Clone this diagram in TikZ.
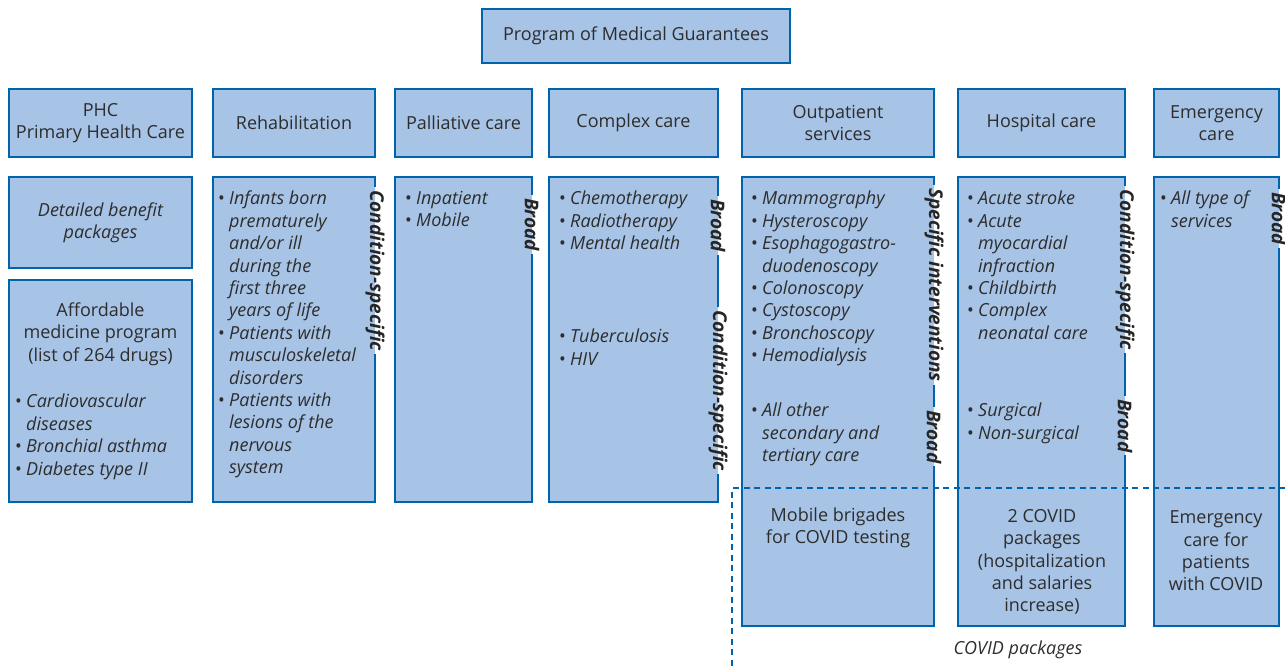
\documentclass[tikz,border=0pt]{standalone}
\usepackage{fontspec}
\setmainfont{Open Sans}
\usepackage{xcolor}
\usepackage{tikz}
\usetikzlibrary{positioning}

\definecolor{boxfill}{RGB}{167,195,229}
\definecolor{boxline}{RGB}{0,99,174}
\definecolor{txt}{RGB}{45,45,45}

\newcommand{\bul}{\makebox[11pt][l]{\upshape\textbullet}}
\newcommand{\ind}{\hspace*{11pt}}

\tikzset{
	box/.style={
		rectangle,
		fill=boxfill,
		draw=boxline,
		line width=2.6pt,
		inner sep=0pt,
		outer sep=0pt,
		anchor=north west,
		text=txt,
		align=center,
		font=\fontsize{18}{22.4}\selectfont
	},
	openbox/.style={box, draw=none},
	border/.style={draw=boxline, line width=2.6pt},
	items/.style={
		text=txt,
		align=left,
		anchor=north west,
		inner sep=0pt,
		font=\fontsize{18}{22.4}\selectfont\itshape
	},
	plain/.style={
		text=txt,
		align=center,
		inner sep=0pt,
		font=\fontsize{18}{22.4}\selectfont
	},
	side/.style={
		rotate=-90,
		anchor=west,
		inner sep=3pt,
		text=black!85,
		font=\fontsize{19}{20}\selectfont\bfseries\itshape
	},
	covid/.style={draw=boxline, line width=2.7pt, dash pattern=on 6pt off 4.5pt}
}

\begin{document}
\begin{tikzpicture}[x=1pt, y=-1pt]
	\useasboundingbox (0,0) rectangle (1285,668);

	% Program
	\node[box, minimum width=308pt, minimum height=54pt] (pmg) at (482,9)
		{Program of Medical Guarantees};

	% Header row
	\node[box, minimum width=183pt, minimum height=68pt] (phc) at (9,89)
		{PHC\\Primary Health Care};
	\node[box, minimum width=162pt, minimum height=68pt] (rehab) at (213,89)
		{Rehabilitation};
	\node[box, minimum width=137pt, minimum height=68pt] (pall) at (395,89)
		{Palliative care};
	\node[box, minimum width=169pt, minimum height=68pt] (comp) at (549,89)
		{Complex care};
	\node[box, minimum width=192pt, minimum height=68pt] (outp) at (742,89)
		{Outpatient\\services};
	\node[box, minimum width=167pt, minimum height=68pt] (hosp) at (958,89)
		{Hospital care};
	\node[box, minimum width=125pt, minimum height=68pt] (emer) at (1154,89)
		{Emergency\\care};

	% PHC packages
	\node[box, minimum width=183pt, minimum height=91pt, font=\fontsize{18}{22.4}\selectfont\itshape]
		(phcdet) at (9,177) {Detailed benefit\\packages};
	\node[box, minimum width=183pt, minimum height=222pt] (phcmed) at (9,280) {};
	\node[plain] (phcmedhd) at (100.5,334) {Affordable\\medicine program\\(list of 264 drugs)};
	\node[items] (phcmedtxt) at ([xshift=6pt, yshift=-114pt]phcmed.north west)
		{\bul Cardiovascular\\ \ind diseases\\ \bul Bronchial asthma\\ \bul Diabetes type II};

	% Rehabilitation
	\node[openbox, minimum width=162pt, minimum height=325pt] (rehabl) at (213,177) {};
	\node[items] (rehabtxt) at ([xshift=5pt, yshift=-14pt]rehabl.north west)
		{\bul Infants born\\ \ind prematurely\\ \ind and/or ill\\ \ind during the\\
		\ind first three\\ \ind years of life\\ \bul Patients with\\ \ind musculoskeletal\\
		\ind disorders\\ \bul Patients with\\ \ind lesions of the\\ \ind nervous\\ \ind system};
	\node[side] (rehabs1) at ([yshift=-10pt]rehabl.north east) {Condition-specific};
	\draw[border] (rehabs1.west -| rehabl.east) -- (rehabl.north east) -- (rehabl.north west)
		-- (rehabl.south west) -- (rehabl.south east) -- (rehabs1.east -| rehabl.east);

	% Palliative care
	\node[openbox, minimum width=137pt, minimum height=325pt] (palll) at (395,177) {};
	\node[items] (palltxt) at ([xshift=10pt, yshift=-14pt]palll.north west)
		{\bul Inpatient\\ \bul Mobile};
	\node[side] (palls1) at ([yshift=-18pt]palll.north east) {Broad};
	\draw[border] (palls1.west -| palll.east) -- (palll.north east) -- (palll.north west)
		-- (palll.south west) -- (palll.south east) -- (palls1.east -| palll.east);

	% Complex care
	\node[openbox, minimum width=169pt, minimum height=325pt] (compl) at (549,177) {};
	\node[items] (comptxt) at ([xshift=10pt, yshift=-14pt]compl.north west)
		{\bul Chemotherapy\\ \bul Radiotherapy\\ \bul Mental health};
	\node[items] (comptxtb) at ([xshift=10pt, yshift=-152pt]compl.north west)
		{\bul Tuberculosis\\ \bul HIV};
	\node[side] (comps1) at ([yshift=-19pt]compl.north east) {Broad};
	\node[side] (comps2) at ([yshift=-130pt]compl.north east) {Condition-specific};
	\draw[border] (comps1.west -| compl.east) -- (compl.north east) -- (compl.north west)
		-- (compl.south west) -- (compl.south east) -- (comps2.east -| compl.east);
	\draw[border] (comps1.east -| compl.east) -- (comps2.west -| compl.east);

	% Outpatient services
	\node[openbox, minimum width=192pt, minimum height=449pt] (outpl) at (742,177) {};
	\node[items] (outptxt) at ([xshift=9pt, yshift=-14pt]outpl.north west)
		{\bul Mammography\\ \bul Hysteroscopy\\ \bul Esophagogastro-\\ \ind duodenoscopy\\
		\bul Colonoscopy\\ \bul Cystoscopy\\ \bul Bronchoscopy\\ \bul Hemodialysis};
	\node[items] (outptxtb) at ([xshift=9pt, yshift=-226pt]outpl.north west)
		{\bul All other\\ \ind secondary and\\ \ind tertiary care};
	\node[side] (outps1) at ([yshift=-8pt]outpl.north east) {Specific interventions};
	\node[side] (outps2) at ([yshift=-230pt]outpl.north east) {Broad};
	\draw[border] (outps1.west -| outpl.east) -- (outpl.north east) -- (outpl.north west)
		-- (outpl.south west) -- (outpl.south east) -- (outps2.east -| outpl.east);
	\draw[border] (outps1.east -| outpl.east) -- (outps2.west -| outpl.east);

	% Hospital care
	\node[openbox, minimum width=167pt, minimum height=449pt] (hospl) at (958,177) {};
	\node[items] (hosptxt) at ([xshift=9pt, yshift=-14pt]hospl.north west)
		{\bul Acute stroke\\ \bul Acute\\ \ind myocardial\\ \ind infraction\\
		\bul Childbirth\\ \bul Complex\\ \ind neonatal care};
	\node[items] (hosptxtb) at ([xshift=9pt, yshift=-226pt]hospl.north west)
		{\bul Surgical\\ \bul Non-surgical};
	\node[side] (hosps1) at ([yshift=-9pt]hospl.north east) {Condition-specific};
	\node[side] (hosps2) at ([yshift=-219pt]hospl.north east) {Broad};
	\draw[border] (hosps1.west -| hospl.east) -- (hospl.north east) -- (hospl.north west)
		-- (hospl.south west) -- (hospl.south east) -- (hosps2.east -| hospl.east);
	\draw[border] (hosps1.east -| hospl.east) -- (hosps2.west -| hospl.east);

	% Emergency care
	\node[openbox, minimum width=125pt, minimum height=449pt] (emerl) at (1154,177) {};
	\node[items] (emertxt) at ([xshift=6pt, yshift=-14pt]emerl.north west)
		{\bul All type of\\ \ind services};
	\node[side] (emers1) at ([yshift=-12pt]emerl.north east) {Broad};
	\draw[border] (emers1.west -| emerl.east) -- (emerl.north east) -- (emerl.north west)
		-- (emerl.south west) -- (emerl.south east) -- (emers1.east -| emerl.east);

	% COVID packages
	\node[plain] (covout) at (838,528) {Mobile brigades\\for COVID testing};
	\node[plain] (covhosp) at (1042,562) {2 COVID\\packages\\(hospitalization\\and salaries\\increase)};
	\node[plain] (covemer) at (1216,551) {Emergency\\care for\\patients\\with COVID};
	\coordinate (covcorner) at (732,488);
	\draw[covid] (1285,488) -- (covcorner) -- (732,668);
	\node[plain, font=\fontsize{18}{22}\selectfont\itshape] (covlab) at (1018,650) {COVID packages};

\end{tikzpicture}
\end{document}
